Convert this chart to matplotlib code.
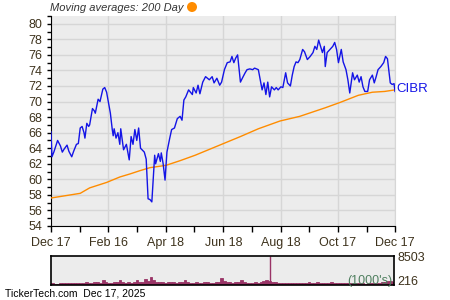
import matplotlib
matplotlib.use("Agg")
import matplotlib.pyplot as plt
from matplotlib.patches import Ellipse
from matplotlib.ticker import MultipleLocator
import datetime as dt

# ---------------- data ----------------
start_date = dt.date(2024, 12, 17)

price_days = [0, 1, 3, 7, 10, 12, 14, 17, 19, 22, 24, 27, 29, 31, 33, 35, 36, 38, 40, 41,
              44, 46, 47, 50, 52, 55, 57, 59, 63, 65, 66, 67, 69, 71, 73, 74, 77, 80, 83, 85,
              87, 89, 91, 93, 95, 99, 101, 103, 105, 107, 110, 111, 114, 116, 117, 119, 121, 123, 126, 128,
              131, 134, 137, 139, 141, 143, 146, 150, 151, 154, 156, 158, 161, 164, 168, 171, 173, 176, 179, 181,
              184, 187, 190, 192, 194, 196, 198, 201, 203, 206, 208, 211, 214, 216, 220, 222, 224, 226, 228, 230,
              232, 234, 237, 239, 241, 244, 246, 249, 251, 254, 256, 258, 260, 262, 264, 267, 269, 272, 275, 278,
              280, 282, 284, 288, 290, 291, 293, 296, 299, 301, 303, 305, 308, 310, 313, 315, 317, 320, 322, 325,
              327, 329, 331, 333, 336, 338, 341, 343, 345, 347, 350, 353, 355, 357, 360, 362, 364, 365]
price_vals = [66.1, 62.9, 63.5, 65.0, 64.3, 63.5, 63.9, 64.4, 63.6, 62.9, 63.6, 64.5, 64.6, 66.6, 66.8, 66.0, 65.3, 67.2, 66.8, 67.0,
              69.1, 68.8, 68.5, 70.3, 70.0, 71.6, 71.8, 71.2, 68.5, 66.4, 65.6, 66.5, 65.3, 66.0, 64.5, 66.5, 63.8, 64.5, 62.5, 65.5,
              64.5, 66.4, 65.0, 66.6, 64.0, 63.5, 62.6, 57.5, 57.4, 57.1, 63.1, 62.0, 63.3, 62.3, 63.4, 62.0, 59.9, 63.5, 65.3, 66.4,
              66.6, 67.8, 68.1, 67.6, 70.2, 70.6, 71.5, 70.9, 71.8, 71.1, 72.1, 71.0, 72.5, 73.2, 72.8, 73.2, 72.4, 73.0, 72.1, 72.5,
              74.1, 75.0, 75.1, 75.8, 75.0, 75.6, 76.0, 72.5, 73.0, 73.7, 74.1, 74.2, 74.1, 74.3, 74.1, 72.8, 71.5, 72.4, 70.9, 72.5,
              70.6, 71.9, 71.5, 71.8, 71.5, 71.9, 71.8, 73.7, 72.4, 72.0, 73.4, 74.5, 75.1, 75.0, 75.4, 76.7, 76.4, 75.4, 75.8, 76.3,
              77.1, 76.7, 77.9, 76.3, 77.1, 74.5, 76.3, 76.7, 77.1, 77.6, 76.7, 75.0, 76.7, 75.1, 74.1, 72.8, 71.1, 73.7, 72.8, 73.4,
              72.5, 73.2, 71.9, 71.3, 71.3, 72.8, 73.4, 72.4, 73.2, 74.1, 74.5, 75.0, 75.8, 75.5, 72.4, 72.2, 72.3, 71.3]

ma_days = [0, 31, 41, 59, 73, 84, 94, 105, 122, 137, 153, 169, 185, 201, 220, 243, 264, 291, 307, 326, 341, 354, 365]
ma_vals = [57.6, 58.2, 58.9, 59.6, 60.3, 60.7, 61.1, 61.5, 61.8, 62.4, 63.1, 63.9, 64.7, 65.5, 66.5, 67.5, 68.1, 69.2,
           69.9, 70.8, 71.2, 71.3, 71.5]

vol_step_days = 3
volume = [500, 300, 200, 450, 600, 550, 700, 650, 500, 600,
          700, 550, 800, 650, 600, 750, 900, 700, 1500, 800,
          700, 650, 900, 850, 1500, 900, 700, 800, 650, 750,
          1400, 900, 800, 1800, 1200, 2300, 1500, 1000, 900, 850,
          700, 800, 950, 750, 700, 850, 900, 1500, 800, 700,
          650, 900, 700, 600, 750, 800, 700, 650, 900, 800,
          2000, 1300, 900, 800, 700, 900, 1000, 1600, 800, 700,
          600, 650, 800, 700, 900, 1200, 1500, 1100, 1000, 900,
          600, 500, 550, 450, 500, 600, 500, 550, 700, 500,
          600, 800, 500, 550, 900, 600, 500, 700, 600, 800,
          550, 600, 500, 450, 600, 500, 550, 600, 500, 450,
          500, 400, 600, 500, 450, 550, 700, 900, 800, 1100,
          1200, 900]
spike_day = 233
spike_vol = 8503
vol_max = 8503
vol_min = 216

x_tick_dates = ["2024-12-17", "2025-02-16", "2025-04-18", "2025-06-18", "2025-08-18", "2025-10-17", "2025-12-17"]
x_tick_labels = ["Dec 17", "Feb 16", "Apr 18", "Jun 18", "Aug 18", "Oct 17", "Dec 17"]
x_minor_dates = ["2025-01-17", "2025-03-18", "2025-05-18", "2025-07-18", "2025-09-17", "2025-11-17"]
ticker = "CIBR"
title_text = "Moving averages: 200 Day"
footer_text = "TickerTech.com  Dec 17, 2025"

# ---------------- styling ----------------
plt.rcParams['font.family'] = ['Liberation Sans', 'DejaVu Sans']
BG = '#ececec'
GRID = '#d6d6d6'
LABEL = '#3d321c'
BLUE = '#1414e6'
ORANGE = '#ff8c00'
VOLC = '#993366'

def to_date(d):
    return start_date + dt.timedelta(days=d)

pd_dates = [to_date(d) for d in price_days]
ma_dates = [to_date(d) for d in ma_days]
vol_dates = [to_date(i * vol_step_days) for i in range(len(volume))]
xt = [dt.date.fromisoformat(s) for s in x_tick_dates]
xm = [dt.date.fromisoformat(s) for s in x_minor_dates]

fig = plt.figure(figsize=(4.5, 3.0), dpi=100)
fig.patch.set_facecolor('white')

ax = fig.add_axes([51/450, 1 - 226/300, 344/450, 210/300])
ax.set_facecolor(BG)
ax.set_xlim(xt[0], xt[-1])
ax.set_ylim(54, 81)
ax.yaxis.set_major_locator(MultipleLocator(2))
ax.yaxis.set_minor_locator(MultipleLocator(1))
ax.set_xticks(xt)
ax.set_xticklabels(x_tick_labels)
ax.set_xticks(xm, minor=True)
ax.grid(True, which='major', color=GRID, lw=1)
ax.set_axisbelow(True)
ax.tick_params(axis='y', which='both', direction='out', length=3, width=1, color='black',
               labelsize=9, labelcolor=LABEL, pad=3)
ax.tick_params(axis='x', which='both', direction='out', length=4, width=1, color='black',
               labelsize=9, labelcolor=LABEL, pad=4)
ax.spines['top'].set_visible(False)
ax.spines['right'].set_color(GRID)
ax.spines['left'].set_color('black')
ax.spines['bottom'].set_color('black')

ax.plot(ma_dates, ma_vals, color=ORANGE, lw=1.0, zorder=3)
ax.plot(pd_dates, price_vals, color=BLUE, lw=1.0, zorder=4)
ax.text(1.005, price_vals[-1] + 0.3, ticker, transform=ax.get_yaxis_transform(),
        color=BLUE, fontsize=9.5, va='center', ha='left', clip_on=False)

fig.text(50/450, 1 - 8/300, title_text, fontsize=8, style='italic', color='#333333',
         ha='left', va='center')
fig.add_artist(Ellipse((192/450, 1 - 7/300), width=10/450, height=10/300,
                       transform=fig.transFigure, facecolor=ORANGE, edgecolor='none'))

# volume panel
vax = fig.add_axes([51/450, 1 - 285/300, 343/450, 29/300])
vax.set_facecolor(BG)
vax.set_xlim(xt[0], xt[-1])
vax.set_ylim(0, vol_max)
vax.bar(vol_dates, volume, width=vol_step_days, bottom=0, color=VOLC, align='edge',
        edgecolor=VOLC, lw=0.6)
vax.vlines([to_date(spike_day)], 0, spike_vol, color=VOLC, lw=1)
vax.set_xticks([])
vax.set_yticks([])
for s in vax.spines.values():
    s.set_color('black')
    s.set_linewidth(1.2)
vax.text(1.01, 0.92, str(vol_max), transform=vax.transAxes, fontsize=9, color=LABEL,
         ha='left', va='center')
vax.text(1.01, 0.1, str(vol_min), transform=vax.transAxes, fontsize=9, color=LABEL,
         ha='left', va='center')
vax.text(0.995, 0.15, "(1000's)", transform=vax.transAxes, fontsize=9, color='#4f7f5f',
         ha='right', va='center')

fig.text(5/450, 1 - 294/300, footer_text, fontsize=7.5, color='black', ha='left', va='center')

fig.savefig('out.png', dpi=100, facecolor='white')
